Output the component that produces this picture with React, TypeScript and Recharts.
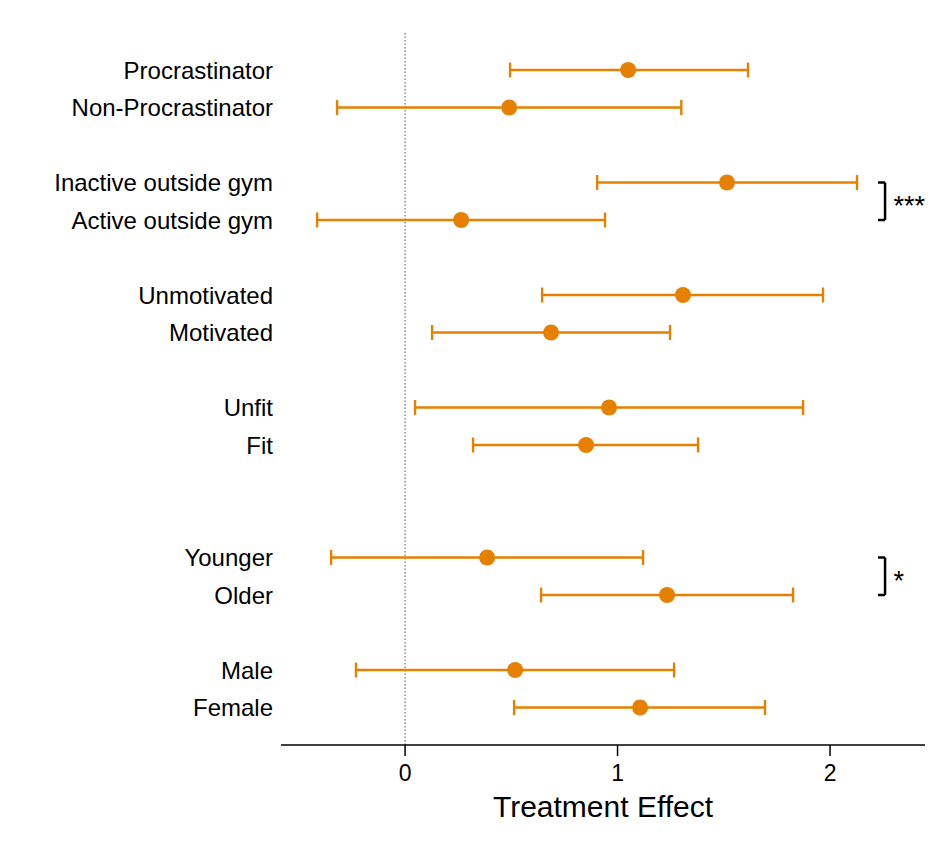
import React from 'react'
import {
  ScatterChart,
  Scatter,
  XAxis,
  YAxis,
  ErrorBar,
  ReferenceLine,
  ReferenceDot,
} from 'recharts'

const labels = [
  'Procrastinator',
  'Non-Procrastinator',
  'Inactive outside gym',
  'Active outside gym',
  'Unmotivated',
  'Motivated',
  'Unfit',
  'Fit',
  'Younger',
  'Older',
  'Male',
  'Female',
]
const rows = [0, 1, 3, 4, 6, 7, 9, 10, 13, 14, 16, 17]
const estimates = [1.05, 0.49, 1.515, 0.264, 1.308, 0.687, 0.96, 0.852, 0.386, 1.233, 0.518, 1.106]
const lower = [0.494, -0.32, 0.904, -0.414, 0.645, 0.127, 0.047, 0.32, -0.348, 0.64, -0.231, 0.513]
const upper = [1.614, 1.3, 2.127, 0.941, 1.967, 1.247, 1.873, 1.379, 1.12, 1.826, 1.266, 1.694]
const xTicks = [0, 1, 2]

const ORANGE = '#E58000'
const FONT = '"Liberation Sans", Arial, sans-serif'

const data = rows.map((r, i) => ({
  y: r,
  x: estimates[i],
  err: [estimates[i] - lower[i], upper[i] - estimates[i]],
}))

const labelByRow: Record<number, string> = {}
rows.forEach((r, i) => {
  labelByRow[r] = labels[i]
})

const Dot = (props: any) => <circle cx={props.cx} cy={props.cy} r={8} fill={ORANGE} />

function Bracket({ from, to, text }: { from: number; to: number; text: string }) {
  const bx0 = 2.226
  const bx1 = 2.259
  const line = { stroke: '#000', strokeWidth: 2.5, ifOverflow: 'visible' as const }
  return [
    <ReferenceLine key={text + 'a'} segment={[{ x: bx0, y: from }, { x: bx1, y: from }]} {...line} />,
    <ReferenceLine key={text + 'b'} segment={[{ x: bx1, y: from }, { x: bx1, y: to }]} {...line} />,
    <ReferenceLine key={text + 'c'} segment={[{ x: bx0, y: to }, { x: bx1, y: to }]} {...line} />,
    <ReferenceDot
      key={text + 'd'}
      x={2.275}
      y={(from + to) / 2}
      r={0}
      ifOverflow="visible"
      label={{ value: text, position: 'right', fill: '#000', fontSize: 27, fontFamily: FONT, dy: 4 }}
    />,
  ]
}

export default function App() {
  return (
    <div style={{ borderTop: '1px solid #eef2f2', marginTop: -6, paddingTop: 5, width: 933 }}>
      <ScatterChart
        width={933}
        height={846}
        margin={{ top: 24.5, right: 16, bottom: 24, left: 0 }}
        style={{ fontFamily: FONT }}
      >
        <XAxis
          type="number"
          dataKey="x"
          domain={[-0.584, 2.447]}
          ticks={xTicks}
          allowDataOverflow
          height={85}
          tickSize={11}
          tickMargin={9}
          stroke="#000"
          strokeWidth={1.5}
          tick={{ fill: '#000', fontSize: 23, fontFamily: FONT }}
          label={{ value: 'Treatment Effect', position: 'insideBottom', offset: 13, fill: '#000', fontSize: 30, fontFamily: FONT }}
        />
        <YAxis
          type="number"
          dataKey="y"
          domain={[-1, 18]}
          reversed
          ticks={rows}
          interval={0}
          width={273}
          axisLine={false}
          tickLine={false}
          tickFormatter={(v: number) => labelByRow[v] ?? ''}
          tick={{ fill: '#000', fontSize: 24, fontFamily: FONT }}
        />
        <ReferenceLine x={0} stroke="#555" strokeDasharray="1.5 2" strokeWidth={1} />
        <Scatter data={data} shape={Dot} isAnimationActive={false}>
          <ErrorBar dataKey="err" direction="x" width={7.5} strokeWidth={2.4} stroke={ORANGE} />
        </Scatter>
        {Bracket({ from: 3, to: 4, text: '***' })}
        {Bracket({ from: 13, to: 14, text: '*' })}
      </ScatterChart>
    </div>
  )
}
